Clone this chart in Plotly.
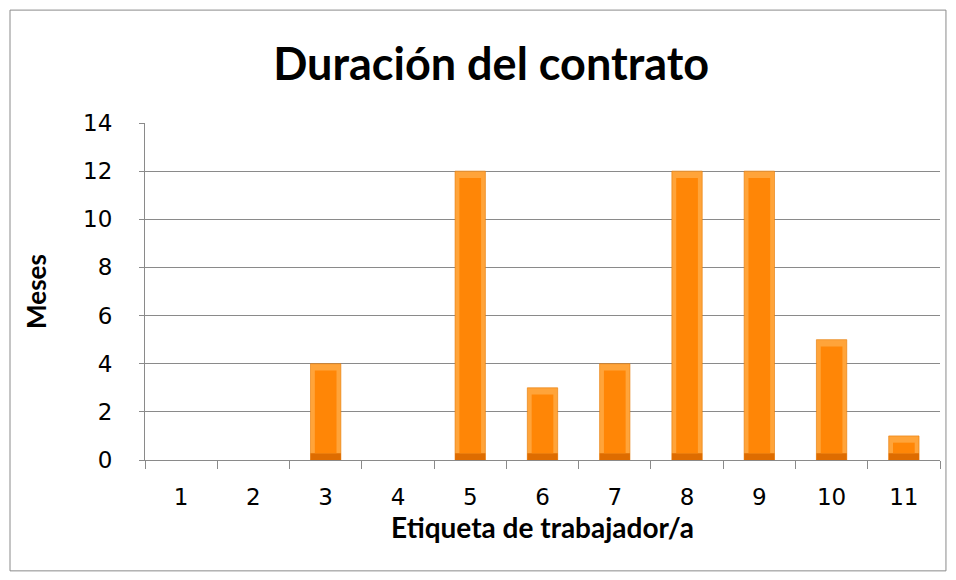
import plotly.graph_objects as go

categories = ["1", "2", "3", "4", "5", "6", "7", "8", "9", "10", "11"]
meses = [0, 0, 4, 0, 12, 3, 4, 12, 12, 5, 1]
y_ticks = [0, 2, 4, 6, 8, 10, 12, 14]

title_text = "Duración del contrato"
x_title = "Etiqueta de trabajador/a"
y_title = "Meses"

bev = 0.28
outer_y = [v if v > 0 else None for v in meses]
bottom_y = [min(v, bev) if v > 0 else None for v in meses]
inner_y = [v - 2 * bev if v > 2 * bev else None for v in meses]
inner_base = [bev if v > 2 * bev else None for v in meses]

fig = go.Figure()
fig.add_trace(go.Bar(x=categories, y=outer_y, width=0.42,
                     marker=dict(color="#FFA43A", line=dict(color="#E57800", width=0.6)),
                     hoverinfo="skip", showlegend=False))
fig.add_trace(go.Bar(x=categories, y=bottom_y, width=0.42,
                     marker=dict(color="#DE6C00", line=dict(width=0)),
                     hoverinfo="skip", showlegend=False))
fig.add_trace(go.Bar(x=categories, y=inner_y, base=inner_base, width=0.30,
                     marker=dict(color="#FF8606", line=dict(width=0)),
                     hovertemplate="%{x}: %{y}<extra></extra>", showlegend=False))

fig.update_layout(
    barmode="overlay",
    width=940, height=564,
    margin=dict(l=137, r=8, t=115, b=112),
    paper_bgcolor="white", plot_bgcolor="white",
    title=dict(text=title_text, x=0.514, xanchor="center", y=0.9007, yanchor="middle",
               font=dict(family="Lato", size=45, color="black", weight="bold")),
    xaxis=dict(type="category", categoryorder="array", categoryarray=categories,
               showline=True, linecolor="#8A8A8A", linewidth=1,
               ticks="outside", tickson="boundaries", ticklen=8, tickcolor="#8A8A8A",
               ticklabelstandoff=16,
               tickfont=dict(family="DejaVu Sans", size=23, color="black"),
               title=dict(text=x_title, standoff=2,
                          font=dict(family="Lato", size=28, color="black", weight="bold")),
               showgrid=False),
    yaxis=dict(range=[0, 14], tickvals=y_ticks, showline=True, linecolor="#8A8A8A", linewidth=1,
               ticks="outside", ticklen=5, tickcolor="#8A8A8A",
               ticklabelstandoff=22,
               gridcolor="#8A8A8A", gridwidth=1, zeroline=False,
               tickfont=dict(family="DejaVu Sans", size=23, color="black"),
               title=dict(text=y_title, standoff=29,
                          font=dict(family="Lato", size=26, color="black", weight="bold"))),
    shapes=[dict(type="rect", xref="paper", yref="paper",
                 x0=-0.1698, x1=1.0075, y0=-0.329, y1=1.335,
                 line=dict(color="#8A8A8A", width=1), layer="below")],
)

fig.write_html("out.html")
